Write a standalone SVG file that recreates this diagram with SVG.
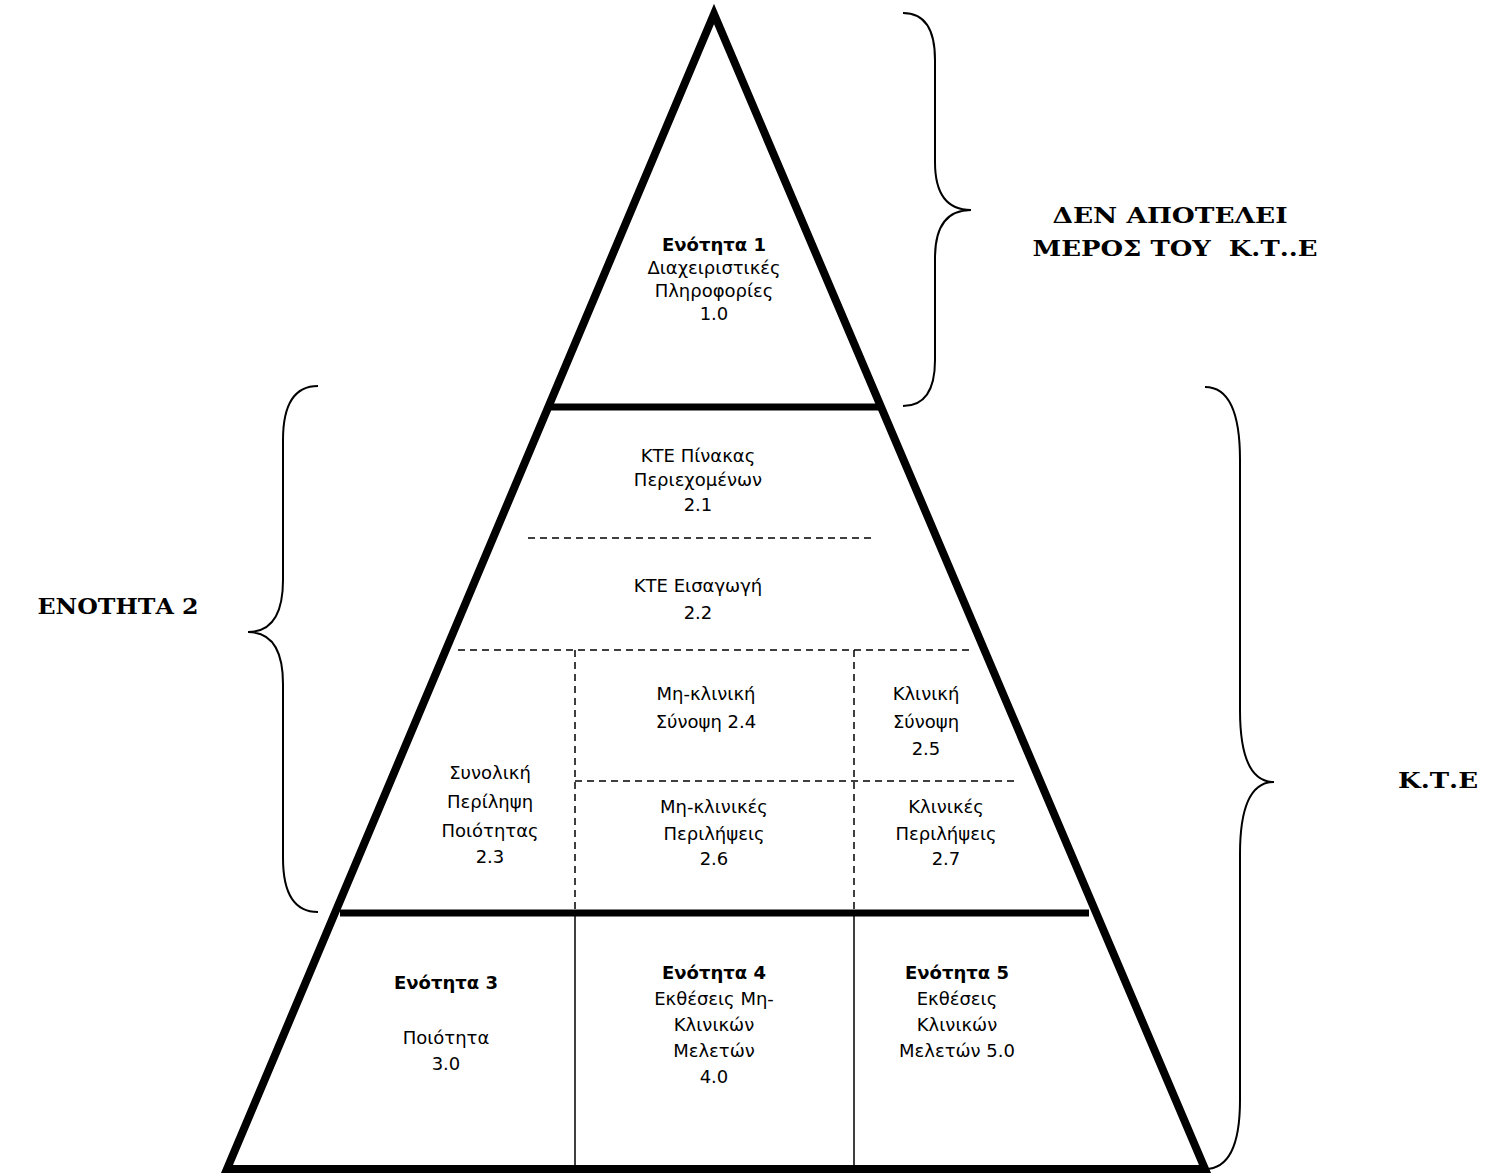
<svg xmlns="http://www.w3.org/2000/svg" width="1487" height="1176" viewBox="0 0 1487 1176">
<style>
.t{font-family:"DejaVu Sans",sans-serif;font-size:18px;fill:#000;text-anchor:middle}
.b{font-weight:bold}
.h{font-family:"DejaVu Serif","Liberation Serif",serif;font-weight:bold;font-size:23px;fill:#000;text-anchor:middle}
.thick{stroke:#000;stroke-width:7;fill:none}
.thin{stroke:#000;stroke-width:1.5;fill:none}
.dash{stroke:#000;stroke-width:1.5;fill:none;stroke-dasharray:7 5}
.brace{stroke:#000;stroke-width:2;fill:none}
</style>
<rect width="1487" height="1176" fill="#fff"/>
<g id="pyramid">
<polygon points="714,14 227,1169 1205,1169" fill="none" stroke="#000" stroke-width="8" stroke-linejoin="miter"/>
<line class="thick" x1="550" y1="407" x2="880" y2="407"/>
<line class="thick" x1="340" y1="913" x2="1089" y2="913"/>
</g>
<g id="connectors">
<line class="dash" x1="528" y1="538" x2="872" y2="538"/>
<line class="dash" x1="458" y1="650" x2="972" y2="650"/>
<line class="dash" x1="575" y1="650" x2="575" y2="910"/>
<line class="dash" x1="854" y1="650" x2="854" y2="910"/>
<line class="dash" x1="575" y1="781" x2="1018" y2="781"/>
<line class="thin" x1="575" y1="916" x2="575" y2="1166"/>
<line class="thin" x1="854" y1="916" x2="854" y2="1166"/>
</g>
<g id="brace-top">
<path class="brace" d="M903,13 Q935,13 935,60 L935,162 Q935,210 971,210 Q935,210 935,258 L935,360 Q935,406 903,406"/>
</g>
<g id="brace-left">
<path class="brace" d="M318,386 Q283,386 283,440 L283,580 Q283,632 248,632 Q283,632 283,684 L283,858 Q283,912 318,912"/>
</g>
<g id="brace-right">
<path class="brace" d="M1205,387 Q1240,387 1240,460 L1240,710 Q1240,782 1274,782 Q1240,782 1240,854 L1240,1100 Q1240,1169 1205,1169"/>
</g>
<g id="node-1">
<text class="t b" x="714" y="251">Ενότητα 1</text>
<text class="t" x="714" y="274">Διαχειριστικές</text>
<text class="t" x="714" y="297">Πληροφορίες</text>
<text class="t" x="714" y="320">1.0</text>
</g>
<g id="node-2-1">
<text class="t" x="698" y="462">ΚΤΕ Πίνακας</text>
<text class="t" x="698" y="486">Περιεχομένων</text>
<text class="t" x="698" y="511">2.1</text>
</g>
<g id="node-2-2">
<text class="t" x="698" y="592">ΚΤΕ Εισαγωγή</text>
<text class="t" x="698" y="619">2.2</text>
</g>
<g id="node-2-3">
<text class="t" x="490" y="779">Συνολική</text>
<text class="t" x="490" y="808">Περίληψη</text>
<text class="t" x="490" y="837">Ποιότητας</text>
<text class="t" x="490" y="863">2.3</text>
</g>
<g id="node-2-4">
<text class="t" x="706" y="700">Μη-κλινική</text>
<text class="t" x="706" y="728">Σύνοψη 2.4</text>
</g>
<g id="node-2-5">
<text class="t" x="926" y="700">Κλινική</text>
<text class="t" x="926" y="728">Σύνοψη</text>
<text class="t" x="926" y="755">2.5</text>
</g>
<g id="node-2-6">
<text class="t" x="714" y="813">Μη-κλινικές</text>
<text class="t" x="714" y="840">Περιλήψεις</text>
<text class="t" x="714" y="865">2.6</text>
</g>
<g id="node-2-7">
<text class="t" x="946" y="813">Κλινικές</text>
<text class="t" x="946" y="840">Περιλήψεις</text>
<text class="t" x="946" y="865">2.7</text>
</g>
<g id="node-3">
<text class="t b" x="446" y="989">Ενότητα 3</text>
<text class="t" x="446" y="1044">Ποιότητα</text>
<text class="t" x="446" y="1070">3.0</text>
</g>
<g id="node-4">
<text class="t b" x="714" y="979">Ενότητα 4</text>
<text class="t" x="714" y="1005">Εκθέσεις Μη-</text>
<text class="t" x="714" y="1031">Κλινικών</text>
<text class="t" x="714" y="1057">Μελετών</text>
<text class="t" x="714" y="1083">4.0</text>
</g>
<g id="node-5">
<text class="t b" x="957" y="979">Ενότητα 5</text>
<text class="t" x="957" y="1005">Εκθέσεις</text>
<text class="t" x="957" y="1031">Κλινικών</text>
<text class="t" x="957" y="1057">Μελετών 5.0</text>
</g>
<g id="label-not-part">
<text class="h" x="1170" y="223" textLength="235" lengthAdjust="spacingAndGlyphs">ΔΕΝ ΑΠΟΤΕΛΕΙ</text>
<text class="h" x="1175" y="256" textLength="285" lengthAdjust="spacingAndGlyphs" xml:space="preserve">ΜΕΡΟΣ ΤΟΥ  Κ.Τ..Ε</text>
</g>
<g id="label-section2">
<text class="h" x="118" y="614" textLength="161" lengthAdjust="spacingAndGlyphs">ΕΝΟΤΗΤΑ 2</text>
</g>
<g id="label-kte">
<text class="h" x="1438" y="788" textLength="80" lengthAdjust="spacingAndGlyphs">Κ.Τ.Ε</text>
</g>
</svg>
